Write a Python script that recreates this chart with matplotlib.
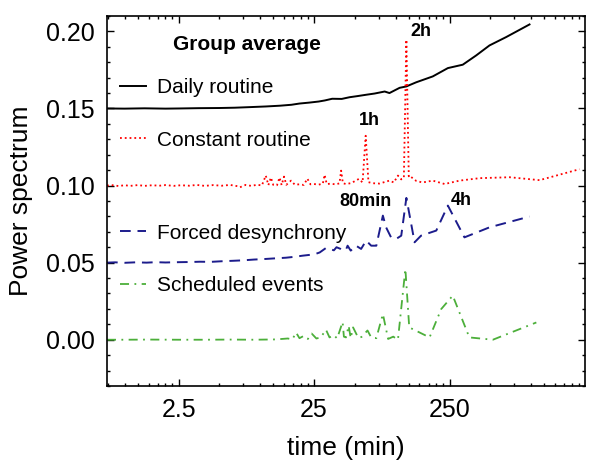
import matplotlib.pyplot as plt
from matplotlib.ticker import FixedLocator, FormatStrFormatter, MultipleLocator, NullFormatter

plt.rcParams['font.family'] = ['Liberation Sans', 'DejaVu Sans']

# Daily routine (offset +0.15)
x_daily = [0.74, 1.0, 1.4, 2.0, 2.5, 3.5, 5.0, 6.5, 8.5, 11, 14, 17, 19.5, 23, 27, 30, 34,
           40, 45.7, 52, 60.6, 70, 83, 90, 107, 120, 142, 188, 243, 313, 393, 493, 654, 973]
y_daily = [0.1500, 0.1499, 0.1501, 0.1499, 0.1500, 0.1502, 0.1503, 0.1505, 0.1509, 0.1513,
           0.1518, 0.1524, 0.1532, 0.1538, 0.1545, 0.1552, 0.1563, 0.1562, 0.1573, 0.1580,
           0.1589, 0.1597, 0.1610, 0.1600, 0.1634, 0.1643, 0.1670, 0.1708, 0.1762, 0.1784,
           0.1844, 0.1909, 0.1963, 0.2045]

# Constant routine (offset +0.10)
x_const = [0.74, 0.8, 0.9, 1.0, 1.1, 1.25, 1.4, 1.6, 1.8, 2.0, 2.3, 2.6, 3.0, 3.4, 3.9, 4.5,
           5.2, 6.0, 6.8, 7.1, 7.8, 8.6, 9.5, 10.3, 11.0, 11.5, 12.0, 12.5, 13.3, 13.9, 14.4,
           15.0, 15.6, 16.9, 18, 19.5, 21, 22.3, 23.5, 25, 27, 29, 29.9, 31, 33, 36, 38.5,
           39.6, 40.8, 43, 47, 53.5, 57, 60.1, 63, 68, 76, 90, 97, 104, 110, 115, 120, 125,
           126, 142, 158, 188, 230, 296, 417, 694, 1154, 2274]
y_const = [0.1000, 0.1003, 0.0997, 0.1002, 0.0998, 0.1003, 0.0998, 0.1002, 0.0999, 0.1003,
           0.0998, 0.1002, 0.0999, 0.1004, 0.0998, 0.1003, 0.0999, 0.1004, 0.0996, 0.0989,
           0.1004, 0.0998, 0.1005, 0.1001, 0.1065, 0.1003, 0.1052, 0.1004, 0.1002, 0.1052,
           0.1003, 0.1058, 0.1005, 0.1032, 0.1006, 0.1008, 0.1004, 0.1045, 0.1008, 0.1010,
           0.1006, 0.1012, 0.1070, 0.1010, 0.1012, 0.1008, 0.1014, 0.1097, 0.1015, 0.1010,
           0.1016, 0.1043, 0.1020, 0.1323, 0.1022, 0.1015, 0.1013, 0.1032, 0.1020, 0.1065,
           0.1040, 0.1050, 0.1946, 0.1060, 0.1065, 0.1030, 0.1020, 0.1032, 0.1010, 0.1032,
           0.1048, 0.1054, 0.1035, 0.1106]

# Forced desynchrony (offset +0.05)
x_forced = [0.74, 0.85, 1.0, 1.2, 1.45, 1.7, 2.0, 2.5, 3.0, 3.6, 4.3, 5.2, 6.3, 7.5, 9, 11,
            13, 15.5, 18, 20.5, 23, 25.5, 27.5, 30.6, 32.5, 35, 36.6, 39, 40.8, 43, 44.2,
            46.6, 51, 55.6, 60.6, 66, 72, 80.5, 85, 92.5, 101, 110, 120, 138, 154, 199.5,
            243, 322, 493, 973]
y_forced = [0.0500, 0.0502, 0.0499, 0.0502, 0.0500, 0.0503, 0.0501, 0.0503, 0.0504, 0.0506,
            0.0505, 0.0509, 0.0512, 0.0515, 0.0520, 0.0524, 0.0528, 0.0532, 0.0538, 0.0545,
            0.0550, 0.0556, 0.0566, 0.0595, 0.0589, 0.0580, 0.0600, 0.0590, 0.0578, 0.0584,
            0.0610, 0.0578, 0.0610, 0.0589, 0.0643, 0.0610, 0.0610, 0.0805, 0.0729, 0.0664,
            0.0654, 0.0675, 0.0920, 0.0632, 0.0675, 0.0708, 0.0870, 0.0664, 0.0729, 0.0799]

# Scheduled events (no offset)
x_sched = [0.74, 1.0, 1.5, 2.5, 4, 6, 9, 13, 16, 17.3, 18.4, 19.5, 21, 22.5, 24, 26, 28,
           30.6, 32.5, 35, 37, 40.6, 41.5, 43, 45, 46.6, 48.5, 53, 56, 62, 66, 72, 80.5, 88,
           96, 104, 118, 126, 178, 217, 264, 350, 522, 1093]
y_sched = [0.0000, 0.0000, 0.0001, 0.0000, 0.0000, 0.0001, 0.0000, 0.0002, 0.0008, 0.0002,
           0.0047, 0.0010, 0.0025, 0.0005, 0.0040, 0.0008, 0.0015, 0.0065, 0.0015, 0.0030,
           0.0008, 0.0115, 0.0020, 0.0015, 0.0091, 0.0010, 0.0080, 0.0012, 0.0018, 0.0060,
           0.0015, 0.0010, 0.0167, 0.0005, 0.0020, 0.0000, 0.0459, 0.0080, 0.0015, 0.0199,
           0.0286, 0.0015, 0.0000, 0.0112]

# peak labels
peak_text = ["2h", "1h", "80min", "4h"]
peak_x = [153, 64, 60, 306]
peak_y = [0.200, 0.142, 0.0896, 0.0903]

fig = plt.figure(figsize=(6.02, 4.74), dpi=100)
ax = fig.add_axes([0.1777, 0.1857, 0.7941, 0.7806])

l1, = ax.plot(x_daily, y_daily, color='black', lw=1.4, label='Daily routine')
l2, = ax.plot(x_const, y_const, color='red', lw=1.3, ls=':', label='Constant routine')
l3, = ax.plot(x_forced, y_forced, color='#1c1c8c', lw=1.4, dashes=(5.5, 3.5),
              label='Forced desynchrony')
l4, = ax.plot(x_sched, y_sched, color='#4caf3a', lw=1.3, dashes=(5, 3, 1, 3),
              label='Scheduled events')

ax.set_xscale('log')
ax.set_xlim(0.74, 2500)
ax.set_ylim(-0.03, 0.21)

ax.xaxis.set_major_locator(FixedLocator([2.5, 25, 250]))
ax.xaxis.set_major_formatter(FormatStrFormatter('%g'))
minors = [2.5 * k * 10 ** n for n in range(-1, 3) for k in range(2, 10)]
ax.xaxis.set_minor_locator(FixedLocator(minors))
ax.xaxis.set_minor_formatter(NullFormatter())
ax.yaxis.set_major_locator(MultipleLocator(0.05))
ax.yaxis.set_minor_locator(MultipleLocator(0.01))
ax.yaxis.set_major_formatter(FormatStrFormatter('%.2f'))

ax.tick_params(which='both', direction='in', top=True, right=True, width=1.0)
ax.tick_params(which='major', length=4.8, labelsize=18, pad=9)
ax.tick_params(which='minor', length=2.4)
for s in ax.spines.values():
    s.set_linewidth(1.2)

ax.set_xlabel('time (min)', fontsize=19, labelpad=10)
ax.set_ylabel('Power spectrum', fontsize=19, labelpad=9)

for t, px, py in zip(peak_text, peak_x, peak_y):
    ax.text(px, py, t, fontsize=13, fontweight='bold', ha='center', va='center')

ax.text(0.293, 0.924, 'Group average', transform=ax.transAxes, ha='center', va='center',
        fontsize=15, fontweight='bold')

leg1 = ax.legend(handles=[l1, l2], loc='center left', bbox_to_anchor=(0.027, 0.735),
                 frameon=False, fontsize=15, handlelength=1.25, handletextpad=0.55,
                 labelspacing=1.6, borderpad=0, borderaxespad=0)
ax.add_artist(leg1)
ax.legend(handles=[l3, l4], loc='center left', bbox_to_anchor=(0.027, 0.342),
          frameon=False, fontsize=15, handlelength=1.25, handletextpad=0.55,
          labelspacing=1.6, borderpad=0, borderaxespad=0)

fig.savefig('out.png', dpi=100)
